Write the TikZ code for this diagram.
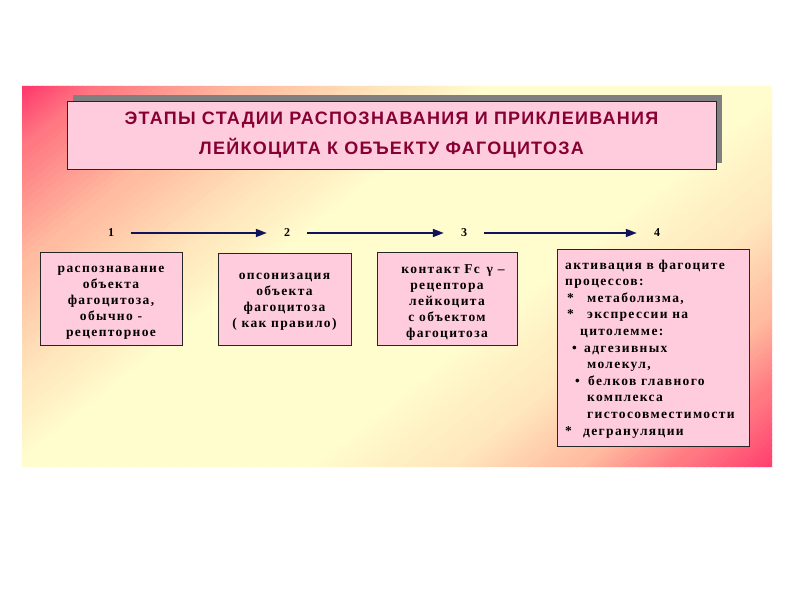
\documentclass[tikz,border=0pt]{standalone}
\usepackage{fontspec}
\setmainfont{Liberation Serif}[LetterSpace=10]
\newfontfamily\titlefont{Liberation Sans}[LetterSpace=7]
\usetikzlibrary{arrows.meta}
\definecolor{boxpink}{RGB}{255,204,222}
\definecolor{titlered}{RGB}{135,0,50}
\definecolor{arrnavy}{RGB}{15,20,90}
\definecolor{hotpink}{RGB}{255,55,108}
\definecolor{bgA}{RGB}{255,120,130}
\definecolor{bgB}{RGB}{255,188,160}
\definecolor{bgC}{RGB}{255,232,190}
\definecolor{paleyellow}{RGB}{255,252,205}
\definecolor{shadowgray}{RGB}{128,128,128}
\newcommand\boxline[4]{\hspace*{#1bp}\makebox[#2bp][l]{#3}#4}
\tikzset{
  stagebox/.style={draw=black!85, line width=0.8pt, fill=boxpink, inner sep=0pt},
  stagetext/.style={inner sep=0pt, align=center, font=\bfseries\fontsize{13.5bp}{16bp}\selectfont},
  stagenum/.style={inner sep=0pt, minimum width=40bp, font=\bfseries\fontsize{12bp}{14bp}\selectfont},
  stagearrow/.style={arrnavy, line width=1.6pt, -{Triangle[length=11bp,width=8bp]}},
}
\begin{document}
\begin{tikzpicture}[x=1bp,y=-1bp]
\useasboundingbox (0,0) rectangle (800,600);
\fill[white] (0,0) rectangle (800,600);
% background gradient (stripes along t = dx + 1.25 dy)
\begin{scope}
\clip (22,86) rectangle (772,467);
\foreach \ca/\cb/\ka/\kb in {0/80/hotpink/bgA, 80/228/bgA/bgB, 228/378/bgB/bgC, 378/470/bgC/paleyellow,
    470/760/paleyellow/paleyellow, 760/900/paleyellow/bgC, 900/1030/bgC/bgB, 1030/1130/bgB/bgA, 1130/1240/bgA/hotpink}{
  \foreach \i in {0,...,15}{
    \pgfmathtruncatemacro\p{100-\i*100/15}
    \pgfmathsetmacro\cc{\ca+(\cb-\ca)*\i/16}
    \pgfmathsetmacro\cd{\ca+(\cb-\ca)*(\i+1)/16+1.5}
    \fill[\ka!\p!\kb] (22+\cc,86) -- (22+\cd,86) -- (22+\cd-476.25,467) -- (22+\cc-476.25,467) -- cycle;
  }
}
\end{scope}
% title
\fill[shadowgray] (73,95) rectangle (722,163);
\node[draw=black!85, line width=0.8pt, fill=boxpink, minimum width=649bp, minimum height=68bp, inner sep=0pt, align=center, text=titlered,
  font=\titlefont\bfseries\fontsize{18bp}{30bp}\selectfont] (title) at (391.5,135)
  {ЭТАПЫ СТАДИИ РАСПОЗНАВАНИЯ И ПРИКЛЕИВАНИЯ\\ЛЕЙКОЦИТА К ОБЪЕКТУ ФАГОЦИТОЗА};
% numbers
\node[stagenum] (n1) at (111,233) {1};
\node[stagenum] (n2) at (287,233) {2};
\node[stagenum] (n3) at (464,233) {3};
\node[stagenum] (n4) at (657,233) {4};
\draw[stagearrow] (n1) -- (n2);
\draw[stagearrow] (n2) -- (n3);
\draw[stagearrow] (n3) -- (n4);
% boxes
\node[stagebox, minimum width=142bp, minimum height=93bp] (b1) at (111,298.5) {};
\node[stagetext] (t1) at (111,302.5)
  {распознавание\\объекта\\фагоцитоза,\\обычно -\\рецепторное};
\node[stagebox, minimum width=133bp, minimum height=92bp] (b2) at (284.5,299) {};
\node[stagetext] (t2) at (284.5,302)
  {опсонизация\\объекта\\фагоцитоза\\( как правило)};
\node[stagebox, minimum width=140bp, minimum height=93bp] (b3) at (447,298.5) {};
\node[stagetext] (t3) at (447,302.5)
  {\hspace*{12bp}контакт Fc\hspace{2bp} γ –\\рецептора\\лейкоцита\\с объектом\\фагоцитоза};
\node[stagebox, minimum width=192bp, minimum height=197bp] (b4) at (653,347.5) {};
\node[stagetext, anchor=north west, align=left, font=\bfseries\fontsize{13.5bp}{16.6bp}\selectfont] (t4) at (565,259.5)
  {\boxline{0}{0}{}{активация в фагоците}\\
   \boxline{0}{0}{}{процессов:}\\
   \boxline{2}{20}{*}{метаболизма,}\\
   \boxline{2}{20}{*}{экспрессии на}\\
   \boxline{15}{0}{}{цитолемме:}\\
   \boxline{7}{12}{•}{адгезивных}\\
   \boxline{22}{0}{}{молекул,}\\
   \boxline{10}{13}{•}{белков главного}\\
   \boxline{22}{0}{}{комплекса}\\
   \boxline{22}{0}{}{гистосовместимости}\\
   \boxline{0}{18}{*}{дегрануляции}};
\end{tikzpicture}
\end{document}
